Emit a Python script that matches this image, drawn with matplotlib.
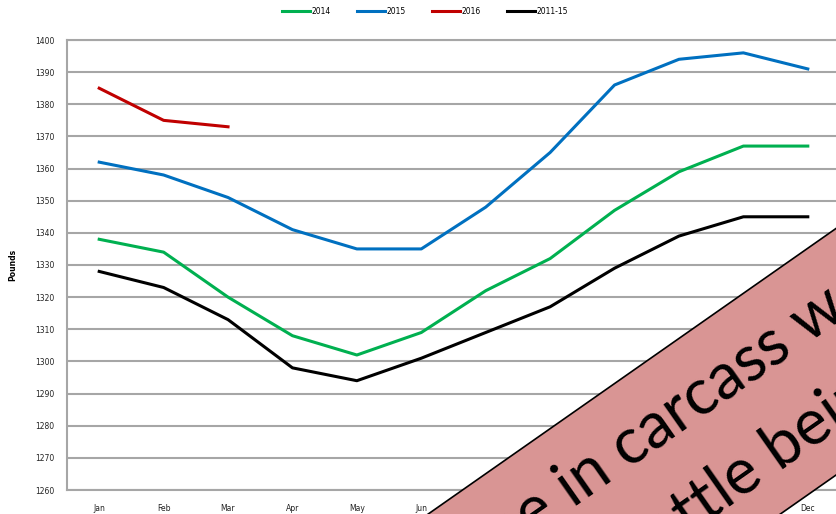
from matplotlib import pyplot as plt
from matplotlib.patches import Rectangle
from matplotlib.lines import Line2D

# Monthly average weights (pounds)
months = ["Jan", "Feb", "Mar", "Apr", "May", "Jun", "Jul", "Aug", "Sep", "Oct", "Nov", "Dec"]

w2014 = [1338, 1334, 1320, 1308, 1302, 1309, 1322, 1332, 1347, 1359, 1367, 1367]
w2015 = [1362, 1358, 1351, 1341, 1335, 1335, 1348, 1365, 1386, 1394, 1396, 1391]
w2016 = [1385, 1375, 1373]
w_avg = [1328, 1323, 1313, 1298, 1294, 1301, 1309, 1317, 1329, 1339, 1345, 1345]

series = [("2014", w2014, "#00b050"),
          ("2015", w2015, "#0070c0"),
          ("2016", w2016, "#c00000"),
          ("2011-15", w_avg, "#000000")]

banner_line1 = "Increase in carcass weight"
banner_line2 = "cattle being fed longer"

fig = plt.figure(figsize=(8.37, 5.14), dpi=100)
ax = fig.add_axes([67/837, 24/514, 773/837, 450/514])

for name, vals, col in series:
    ax.plot(range(len(vals)), vals, color=col, lw=2.2, label=name, zorder=3)

ax.set_xlim(-0.5, 11.5)
ax.set_ylim(1260, 1400)
ax.set_yticks(range(1260, 1401, 10))
ax.set_xticks(range(12))
ax.set_xticklabels(months)
ax.yaxis.grid(True, color="#a6a6a6", lw=1.5)
ax.set_axisbelow(True)
for s in ax.spines.values():
    s.set_color("#a6a6a6")
    s.set_linewidth(1.5)
ax.tick_params(length=0, labelsize=5.5, colors="#222222")
ax.tick_params(axis="x", pad=10)
ax.tick_params(axis="y", pad=9)
ax.set_ylabel("Pounds", fontsize=5.5, fontweight="bold", labelpad=13)

handles = [Line2D([], [], color=c, lw=2.2) for _, _, c in series]
fig.legend(handles, [s[0] for s in series], loc="upper center", ncol=4,
           bbox_to_anchor=(425/837, 1.0), frameon=False, fontsize=5.5,
           handlelength=3.6, handletextpad=0.2, columnspacing=3.5)

# diagonal banner on top
ov = fig.add_axes([0, 0, 1, 1])
ov.set_xlim(0, 837)
ov.set_ylim(0, 514)
ov.axis("off")
cx, cy = 700, 67
ov.add_patch(Rectangle((cx - 700, cy - 101), 1400, 202, angle=35,
                       rotation_point="center", facecolor="#d99594",
                       edgecolor="black", lw=1.2))
ov.text(656, 86, banner_line1, rotation=35, rotation_mode="anchor",
        ha="center", va="center", fontsize=46, family="Lato")
ov.text(885, 138, banner_line2, rotation=35, rotation_mode="anchor",
        ha="center", va="center", fontsize=46, family="Lato")

plt.savefig("out.png", dpi=100)
